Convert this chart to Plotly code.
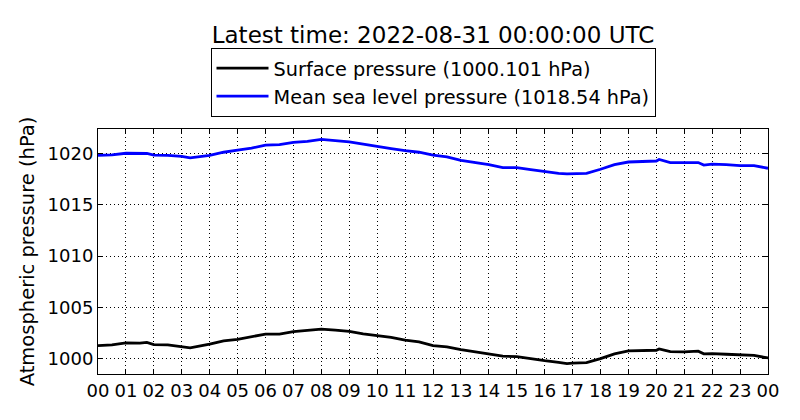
import pandas as pd
import plotly.graph_objects as go

base_time = "2022-08-30 00:00:00"

hours = [0, 0.5, 1, 1.5, 1.75, 2, 2.5, 3, 3.3, 4, 4.5, 5, 5.5, 6, 6.5, 7, 7.5, 8,
         8.5, 9, 9.5, 10, 10.5, 11, 11.5, 12, 12.5, 13, 13.5, 14, 14.5, 15, 15.5,
         16, 16.5, 16.8, 17, 17.5, 18, 18.5, 19, 19.5, 20, 20.1, 20.5, 21, 21.5,
         21.7, 22, 22.5, 23, 23.5, 24]

surface_pressure = [1001.3, 1001.37, 1001.57, 1001.54, 1001.62, 1001.4, 1001.37,
                    1001.2, 1001.08, 1001.44, 1001.77, 1001.9, 1002.13, 1002.42,
                    1002.42, 1002.65, 1002.78, 1002.9, 1002.8, 1002.68, 1002.45,
                    1002.26, 1002.1, 1001.83, 1001.67, 1001.3, 1001.18, 1000.92,
                    1000.72, 1000.53, 1000.27, 1000.23, 1000.0, 999.84, 999.68,
                    999.55, 999.6, 999.65, 1000.04, 1000.5, 1000.79, 1000.82,
                    1000.85, 1000.98, 1000.72, 1000.69, 1000.76, 1000.5, 1000.53,
                    1000.46, 1000.4, 1000.35, 1000.101]

msl_pressure = [1019.8, 1019.85, 1020.0, 1019.95, 1019.98, 1019.82, 1019.8, 1019.7,
                1019.55, 1019.8, 1020.1, 1020.3, 1020.5, 1020.8, 1020.85, 1021.05,
                1021.15, 1021.35, 1021.25, 1021.1, 1020.9, 1020.65, 1020.45,
                1020.25, 1020.1, 1019.82, 1019.65, 1019.3, 1019.1, 1018.9, 1018.6,
                1018.6, 1018.4, 1018.2, 1018.05, 1018.0, 1018.0, 1018.05, 1018.45,
                1018.9, 1019.15, 1019.2, 1019.25, 1019.4, 1019.1, 1019.1, 1019.1,
                1018.85, 1018.95, 1018.9, 1018.8, 1018.8, 1018.54]

surface_label = "Surface pressure (1000.101 hPa)"
msl_label = "Mean sea level pressure (1018.54 hPa)"
title_text = "Latest time: 2022-08-31 00:00:00 UTC"
y_title = "Atmospheric pressure (hPa)"

times = pd.Timestamp(base_time) + pd.to_timedelta(hours, unit="h")

FONT = "DejaVu Sans"

fig = go.Figure()
fig.add_trace(go.Scatter(x=times, y=surface_pressure, mode="lines",
                         name=surface_label, line=dict(color="#000000", width=2.8)))
fig.add_trace(go.Scatter(x=times, y=msl_pressure, mode="lines",
                         name=msl_label, line=dict(color="#0000ff", width=2.8)))

fig.update_layout(
    width=800, height=420,
    margin=dict(l=98, r=32, t=129, b=46),
    paper_bgcolor="white", plot_bgcolor="white",
    font=dict(family=FONT, size=18, color="black"),
    title=dict(text=title_text, x=(98 + 335) / 800, xanchor="center",
               y=1 - 35 / 420, yanchor="middle",
               font=dict(family=FONT, size=23, color="black")),
    legend=dict(x=0.5, xanchor="center", y=1.049, yanchor="bottom",
                bordercolor="black", borderwidth=1, bgcolor="white",
                font=dict(family=FONT, size=19.3, color="black"),
                tracegroupgap=0, itemwidth=52),
    showlegend=True,
)

fig.update_xaxes(
    type="date",
    range=[pd.Timestamp("2022-08-30 00:00:00"), pd.Timestamp("2022-08-31 00:00:00")],
    dtick=3600000, tick0="2022-08-30 00:00:00", tickformat="%H",
    showgrid=True, gridcolor="black", griddash="1px,3px", gridwidth=1,
    showline=True, linecolor="black", linewidth=1, mirror="ticks",
    ticks="inside", ticklen=5, tickcolor="black",
    tickfont=dict(family=FONT, size=18, color="black"),
    zeroline=False, automargin=False,
)
fig.update_yaxes(
    range=[998.54, 1022.36],
    tickvals=[1000, 1005, 1010, 1015, 1020],
    showgrid=True, gridcolor="black", griddash="1px,3px", gridwidth=1,
    showline=True, linecolor="black", linewidth=1, mirror="ticks",
    ticks="inside", ticklen=5, tickcolor="black",
    tickfont=dict(family=FONT, size=18, color="black"),
    title=dict(text=y_title, font=dict(family=FONT, size=19.5, color="black"),
               standoff=7),
    zeroline=False, automargin=False,
)

fig.write_html("out.html", config={"displayModeBar": False},
               post_script="document.body.style.margin='0px';document.body.style.padding='0px';")
